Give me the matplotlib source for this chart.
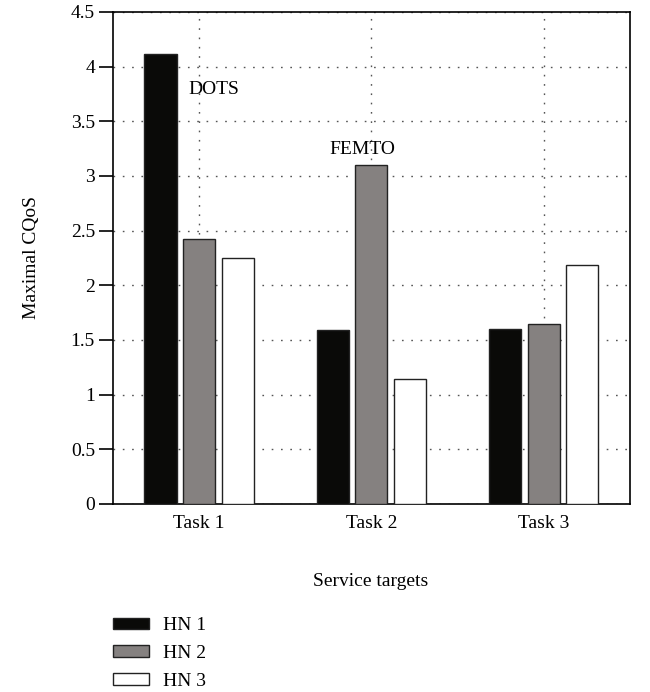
import numpy as np
import matplotlib.pyplot as plt

# data
tasks = ["Task 1", "Task 2", "Task 3"]
hn1 = [4.12, 1.59, 1.60]
hn2 = [2.42, 3.10, 1.65]
hn3 = [2.25, 1.14, 2.19]
series_names = ["HN 1", "HN 2", "HN 3"]
yticks = [0, 0.5, 1, 1.5, 2, 2.5, 3, 3.5, 4, 4.5]
ytick_labels = ["0", "0.5", "1", "1.5", "2", "2.5", "3", "3.5", "4", "4.5"]

plt.rcParams['font.family'] = ['Liberation Serif', 'DejaVu Serif']
plt.rcParams['font.size'] = 14

fig = plt.figure(figsize=(6.5, 6.92), dpi=100)
ax = fig.add_axes([0.1738, 0.2717, 0.7952, 0.7110])

x = np.arange(len(tasks))
w = 0.186
off = 0.224
colors = ["#0a0a08", "#858180", "white"]
for i, (vals, c, name) in enumerate(zip([hn1, hn2, hn3], colors, series_names)):
    ax.bar(x + (i - 1) * off, vals, width=w, color=c, edgecolor="#222222",
           linewidth=1.0, label=name, zorder=3)

ax.set_xlim(-0.5, 2.5)
ax.set_ylim(0, 4.5)
ax.set_yticks(yticks)
ax.set_yticklabels(ytick_labels)
ax.set_xticks(x)
ax.set_xticklabels(tasks)
ax.tick_params(axis="y", direction="out", length=10, width=1.2, pad=3)
ax.tick_params(axis="x", length=0, pad=8)
ax.grid(True, color="#555555", linestyle=(0, (1.2, 5.5)), linewidth=1.0, zorder=0)
for s in ax.spines.values():
    s.set_linewidth(1.2)

ax.text(-0.06, 3.79, "DOTS", ha="left", va="center", zorder=4)
ax.text(0.95, 3.24, "FEMTO", ha="center", va="center", zorder=4)

ax.set_ylabel("Maximal CQoS", labelpad=22)
fig.text(371 / 650, 1 - 582 / 692, "Service targets", ha="center", va="center")

fig.legend(loc="upper left", bbox_to_anchor=(95 / 650, 1 - 600 / 692),
           frameon=False, handlelength=1.9, handleheight=0.55,
           labelspacing=0.55, handletextpad=0.7)

fig.savefig("out.png", dpi=100)
